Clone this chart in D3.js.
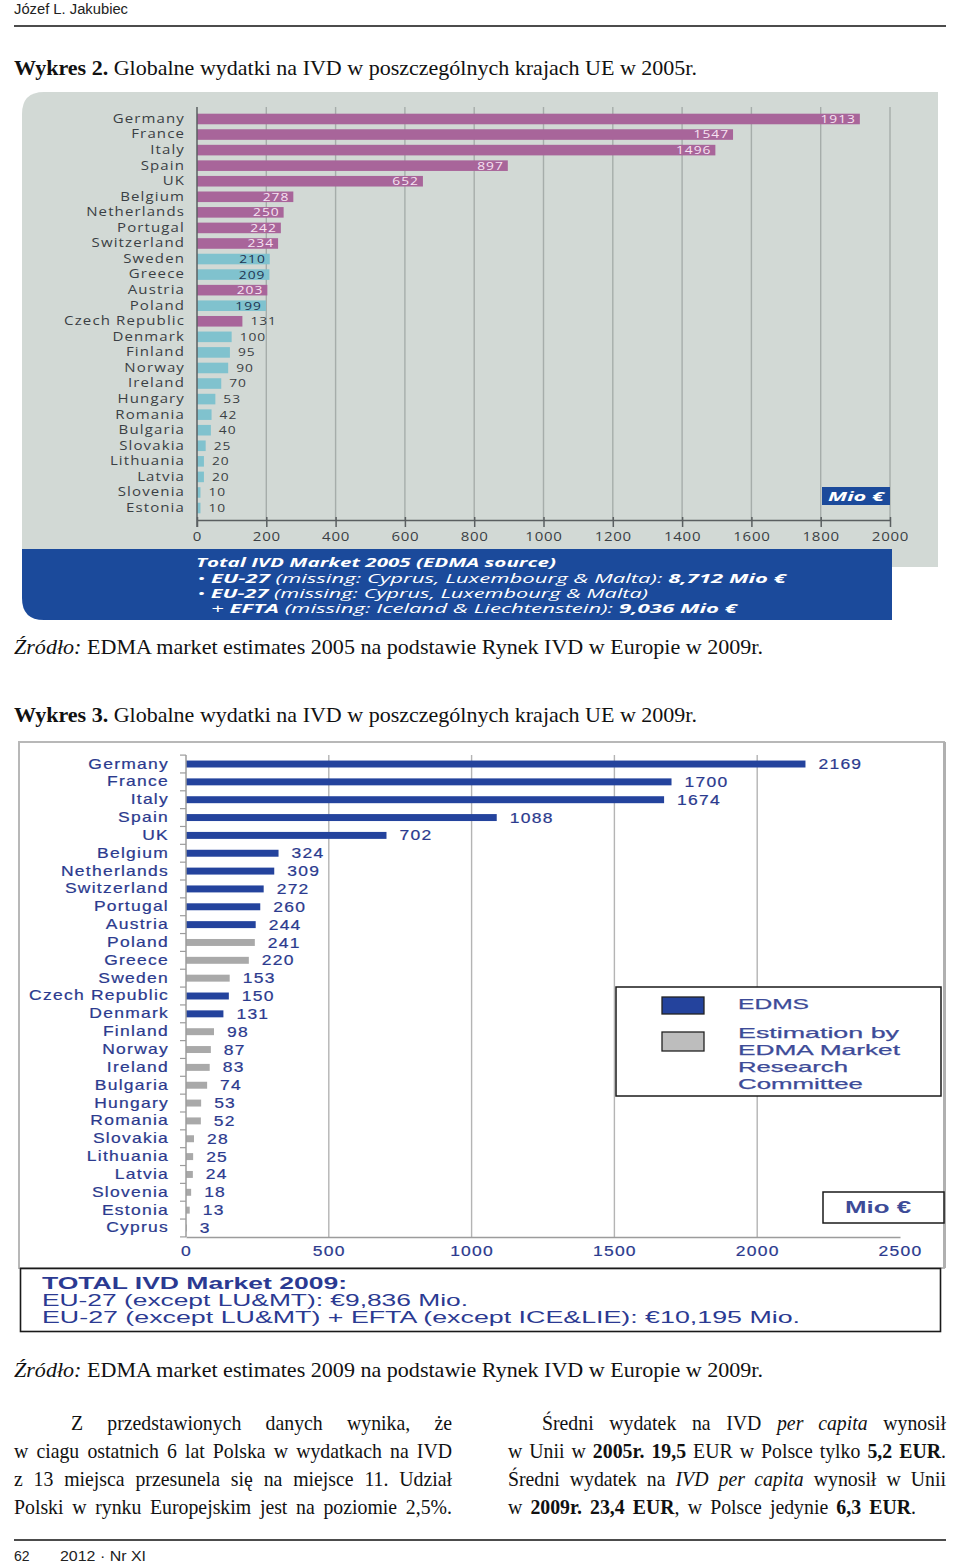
<!DOCTYPE html>
<html><head><meta charset="utf-8">
<script src="https://cdn.jsdelivr.net/npm/d3@7"></script>
<style>body{margin:0;background:#fff} svg{display:block}</style>
</head><body>
<svg id="page" width="960" height="1564"></svg>
<script>
// ---------------- DATA ----------------
const categories2005 = ["Germany","France","Italy","Spain","UK","Belgium","Netherlands","Portugal","Switzerland","Sweden","Greece","Austria","Poland","Czech Republic","Denmark","Finland","Norway","Ireland","Hungary","Romania","Bulgaria","Slovakia","Lithuania","Latvia","Slovenia","Estonia"];
const values2005 = [1913,1547,1496,897,652,278,250,242,234,210,209,203,199,131,100,95,90,70,53,42,40,25,20,20,10,10];
const groups2005 = ["A","A","A","A","A","A","A","A","A","B","B","A","B","A","B","B","B","B","B","B","B","B","B","B","B","B"];
const ticks2005 = [0,200,400,600,800,1000,1200,1400,1600,1800,2000];

const categories2009 = ["Germany","France","Italy","Spain","UK","Belgium","Netherlands","Switzerland","Portugal","Austria","Poland","Greece","Sweden","Czech Republic","Denmark","Finland","Norway","Ireland","Bulgaria","Hungary","Romania","Slovakia","Lithuania","Latvia","Slovenia","Estonia","Cyprus"];
const values2009 = [2169,1700,1674,1088,702,324,309,272,260,244,241,220,153,150,131,98,87,83,74,53,52,28,25,24,18,13,3];
const sources2009 = ["EDMS","EDMS","EDMS","EDMS","EDMS","EDMS","EDMS","EDMS","EDMS","EDMS","EST","EST","EST","EDMS","EDMS","EST","EST","EST","EST","EST","EST","EST","EST","EST","EST","EST","EST"];
const ticks2009 = [0,500,1000,1500,2000,2500];
const legendKeys2009 = ["EDMS","EST"];
const legendLabels2009 = [["EDMS"],["Estimation by","EDMA Market","Research","Committee"]];

// ---------------- SETUP ----------------
const page = d3.select("#page");
const SERIF = "'Liberation Serif','Times New Roman',serif";
const SANS = "'Liberation Sans',Arial,sans-serif";
const OPEN = "'Open Sans','DejaVu Sans',sans-serif";
const SX = 1.25;
const fmt = d3.format("d");

function parseLine(str){
  const words=[]; let b=false,i=false; let cur=[]; let seg="";
  const flush=()=>{ if(seg){cur.push({t:seg,b,i}); seg="";} };
  for(let k=0;k<str.length;k++){
    if(str.startsWith("**",k)){ flush(); b=!b; k++; continue; }
    if(str[k]==="_"){ flush(); i=!i; continue; }
    if(str[k]===" "){ flush(); if(cur.length) words.push(cur); cur=[]; continue; }
    seg+=str[k];
  }
  flush(); if(cur.length) words.push(cur);
  return words;
}
function styledText(x,y,str,size,len,family){
  const t=page.append("text").attr("x",x).attr("y",y).attr("font-family",family||SERIF).attr("font-size",size).attr("fill","#111");
  if(len) t.attr("textLength",len).attr("lengthAdjust","spacingAndGlyphs");
  const words=parseLine(str);
  words.forEach((w,wi)=>{
    w.forEach((s,si)=>{
      const txt=(wi>0&&si===0?" ":"")+s.t;
      const ts=t.append("tspan").text(txt);
      if(s.b) ts.attr("font-weight","bold");
      if(s.i) ts.attr("font-style","italic");
    });
  });
  return t;
}
function justified(x0,x1,y,str,size,justify){
  const t=page.append("text").attr("y",y).attr("font-family",SERIF).attr("font-size",size).attr("fill","#111");
  const words=parseLine(str);
  const wspans=words.map(w=>w.map(s=>{
    const ts=t.append("tspan").text(s.t);
    if(s.b) ts.attr("font-weight","bold");
    if(s.i) ts.attr("font-style","italic");
    return ts;
  }));
  const widths=wspans.map(arr=>d3.sum(arr,s=>s.node().getComputedTextLength()));
  const sum=d3.sum(widths); const n=words.length; const avail=x1-x0;
  const space=size*0.25;
  let k=Math.max(0.72,Math.min(0.9, avail/(sum+(n-1)*space)));
  let gap = justify ? (avail/k-sum)/(n-1) : space;
  t.attr("transform",`scale(${k},1)`);
  let pos=x0/k;
  wspans.forEach((arr,wi)=>{ arr[0].attr("x",pos); pos+=widths[wi]+gap; });
}

// ---------------- PAGE TEXT ----------------
page.append("text").attr("x",14).attr("y",14).attr("font-family",SANS).attr("font-size",14).attr("fill","#222")
  .attr("textLength",114).attr("lengthAdjust","spacingAndGlyphs").text("Józef L. Jakubiec");
page.append("line").attr("x1",14).attr("x2",946).attr("y1",26).attr("y2",26).attr("stroke","#111").attr("stroke-width",1.6);

styledText(14,75,"**Wykres 2.** Globalne wydatki na IVD w poszczególnych krajach UE w 2005r.",22,683);
styledText(14,654,"_Źródło:_ EDMA market estimates 2005 na podstawie Rynek IVD w Europie w 2009r.",22,749);
styledText(14,722,"**Wykres 3.** Globalne wydatki na IVD w poszczególnych krajach UE w 2009r.",22,683);
styledText(14,1377,"_Źródło:_ EDMA market estimates 2009 na podstawie Rynek IVD w Europie w 2009r.",22,749);

// ---------------- CHART 1 (2005) ----------------
const x1 = d3.scaleLinear().domain([0,2000]).range([197,890]);
const y1 = d3.scaleBand().domain(categories2005).range([111.2,515.8]).paddingInner(0.32).paddingOuter(0.16);
const color1 = d3.scaleOrdinal().domain(["A","B"]).range(["#a8659a","#80c2ce"]);
const c1 = page.append("g");
c1.append("path").attr("d","M22,567 V114 Q22,92 44,92 H938 V567 Z").attr("fill","#d2d9d5");
c1.selectAll("line.grid").data(ticks2005.slice(1)).join("line").attr("class","grid")
  .attr("x1",d=>x1(d)).attr("x2",d=>x1(d)).attr("y1",107).attr("y2",520)
  .attr("stroke","#a6adaa").attr("stroke-width",1.4);
c1.selectAll("rect.bar").data(categories2005).join("rect").attr("class","bar")
  .attr("x",x1(0)).attr("y",d=>y1(d)).attr("height",y1.bandwidth())
  .attr("width",(d,i)=>x1(values2005[i])-x1(0)).attr("fill",(d,i)=>color1(groups2005[i]));
c1.selectAll("text.val").data(categories2005).join("text").attr("class","val")
  .each(function(d,i){
    const v=values2005[i], inside=v>=199;
    const xx=inside? x1(v)-4 : x1(v)+8;
    d3.select(this).attr("x",xx/SX).attr("y",y1(d)+y1.bandwidth()/2).attr("dy","0.36em")
      .attr("text-anchor",inside?"end":"start")
      .attr("fill",inside?(groups2005[i]==="A"?"#f7e3f2":"#1e3552"):"#3a3f44").text(v);
  })
  .attr("transform",`scale(${SX},1)`).attr("font-family",OPEN).attr("font-size",11).attr("letter-spacing",0.8);
c1.append("line").attr("x1",197).attr("x2",197).attr("y1",107).attr("y2",527).attr("stroke","#5a5f60").attr("stroke-width",1.5);
const ax1=c1.append("g").attr("transform","translate(0,520)")
  .call(d3.axisBottom(x1).tickValues(ticks2005).tickFormat(fmt).tickSize(7).tickSizeOuter(0).tickPadding(5));
ax1.select(".domain").attr("stroke","#5a5f60").attr("stroke-width",1.5);
ax1.selectAll(".tick line").attr("stroke","#5a5f60").attr("stroke-width",1.5).attr("y1",-3);
ax1.selectAll(".tick text").attr("font-family",OPEN).attr("font-size",12).attr("fill","#3a3f44")
  .attr("letter-spacing",0.6).attr("transform",`scale(${SX},1)`);
const ay1=c1.append("g").attr("transform","translate(197,0)").call(d3.axisLeft(y1).tickSize(0).tickPadding(13));
ay1.select(".domain").remove();
ay1.selectAll(".tick text").attr("x",-12/SX).attr("font-family",OPEN).attr("font-size",12).attr("fill","#3a3f44")
  .attr("letter-spacing",0.9).attr("transform",`scale(${SX},1)`);
// Mio box
c1.append("rect").attr("x",822).attr("y",487).attr("width",68).attr("height",18).attr("fill","#1b4a9b");
c1.append("text").attr("x",828).attr("y",501).attr("font-family",OPEN).attr("font-size",13).attr("font-weight","bold")
  .attr("font-style","italic").attr("fill","#fff").attr("textLength",56).attr("lengthAdjust","spacingAndGlyphs").text("Mio €");
// blue footer
c1.append("path").attr("d","M22,549 H892 V620 H44 Q22,620 22,598 Z").attr("fill","#1b4a9b");
function blueLine(x,y,str,len){
  const t=styledText(x,y,str,12,len,OPEN); t.attr("fill","#fff").attr("font-style","italic");
  return t;
}
blueLine(196,567,"**Total IVD Market 2005 (EDMA source)**",360);
blueLine(197,583,"• **EU-27** (missing: Cyprus, Luxembourg & Malta): **8,712 Mio €**",589);
blueLine(197,598,"• **EU-27** (missing: Cyprus, Luxembourg & Malta)",451);
blueLine(211,613,"+ **EFTA** (missing: Iceland & Liechtenstein): **9,036 Mio €**",526);

// ---------------- CHART 2 (2009) ----------------
const x2 = d3.scaleLinear().domain([0,2500]).range([186,900]);
const y2 = d3.scaleBand().domain(categories2009).range([755.1,1236.9]).paddingInner(0.61).paddingOuter(0.305);
const color2 = d3.scaleOrdinal().domain(legendKeys2009).range(["#24439d","#a9a9a9"]);
const NAVY="#2b3a8e";
const c2 = page.append("g");
c2.append("rect").attr("x",19).attr("y",742).attr("width",925).attr("height",526).attr("fill","#fff").attr("stroke","#b8b8b8").attr("stroke-width",2);
c2.append("line").attr("x1",944.5).attr("x2",944.5).attr("y1",742).attr("y2",1268).attr("stroke","#b0b0b0").attr("stroke-width",3);
c2.selectAll("line.grid").data(ticks2009.slice(1,-1)).join("line").attr("class","grid")
  .attr("x1",d=>x2(d)).attr("x2",d=>x2(d)).attr("y1",755).attr("y2",1237)
  .attr("stroke","#b4b4b4").attr("stroke-width",1.4);
c2.selectAll("rect.bar").data(categories2009).join("rect").attr("class","bar")
  .attr("x",x2(0)).attr("y",d=>y2(d)).attr("height",y2.bandwidth())
  .attr("width",(d,i)=>x2(values2009[i])-x2(0)).attr("fill",(d,i)=>color2(sources2009[i]));
c2.selectAll("text.val").data(categories2009).join("text").attr("class","val")
  .attr("x",(d,i)=>(x2(values2009[i])+13)/SX).attr("y",d=>y2(d)+y2.bandwidth()/2).attr("dy","0.36em")
  .attr("transform",`scale(${SX},1)`).attr("font-family",SANS).attr("font-size",14).attr("letter-spacing",1)
  .attr("fill",NAVY).attr("stroke",NAVY).attr("stroke-width",0.2).text((d,i)=>values2009[i]);
// y axis with boundary ticks
c2.append("line").attr("x1",186).attr("x2",186).attr("y1",y2.range()[0]).attr("y2",1237).attr("stroke","#9c9c9c").attr("stroke-width",1.5);
c2.selectAll("line.ytick").data(d3.range(categories2009.length+1)).join("line").attr("class","ytick")
  .attr("x1",180).attr("x2",186).attr("y1",k=>y2.range()[0]+k*y2.step()).attr("y2",k=>y2.range()[0]+k*y2.step())
  .attr("stroke","#9c9c9c").attr("stroke-width",1.2);
const ax2=c2.append("g").attr("transform","translate(0,1237)")
  .call(d3.axisBottom(x2).tickValues(ticks2009).tickFormat(fmt).tickSize(0).tickPadding(9));
ax2.select(".domain").attr("stroke","#9c9c9c").attr("stroke-width",1.5);
ax2.selectAll(".tick text").attr("font-family",SANS).attr("font-size",14).attr("fill",NAVY).attr("stroke",NAVY).attr("stroke-width",0.2)
  .attr("letter-spacing",1).attr("transform",`scale(${SX},1)`);
const ay2=c2.append("g").attr("transform","translate(186,0)").call(d3.axisLeft(y2).tickSize(0));
ay2.select(".domain").remove();
ay2.selectAll(".tick text").attr("x",-17/SX).attr("font-family",SANS).attr("font-size",14).attr("fill",NAVY)
  .attr("stroke",NAVY).attr("stroke-width",0.2).attr("letter-spacing",1).attr("transform",`scale(${SX},1)`);
// legend
c2.append("rect").attr("x",616).attr("y",987).attr("width",325).attr("height",109).attr("fill","#fff").attr("stroke","#1a1a1a").attr("stroke-width",1.5);
const legY=[997,1032];
const legLens=[[71],[161,162,110,125]];
legendKeys2009.forEach((k,i)=>{
  c2.append("rect").attr("x",662).attr("y",legY[i]).attr("width",42).attr("height",i===0?17:19)
    .attr("fill",i===0?color2(k):"#bdbdbd").attr("stroke","#222").attr("stroke-width",1.3);
  legendLabels2009[i].forEach((s,j)=>{
    c2.append("text").attr("x",738).attr("y",(i===0?1009:1038)+j*17).attr("font-family",SANS).attr("font-size",15)
      .attr("fill","#3d4b98").attr("stroke","#3d4b98").attr("stroke-width",0.25)
      .attr("textLength",legLens[i][j]).attr("lengthAdjust","spacingAndGlyphs").text(s);
  });
});
// Mio box
c2.append("rect").attr("x",823).attr("y",1192).attr("width",121).attr("height",31).attr("fill","#fff").attr("stroke","#1a1a1a").attr("stroke-width",1.5);
c2.append("text").attr("x",845).attr("y",1213).attr("font-family",SANS).attr("font-size",16).attr("font-weight","bold")
  .attr("fill","#3d4b98").attr("textLength",66).attr("lengthAdjust","spacingAndGlyphs").text("Mio €");
// total box
c2.append("rect").attr("x",20.5).attr("y",1268.5).attr("width",920).attr("height",63).attr("fill","#fff").attr("stroke","#1a1a1a").attr("stroke-width",1.6);
[["**TOTAL IVD Market 2009:**",305],["EU-27 (except LU&MT): €9,836 Mio.",426],["EU-27 (except LU&MT) + EFTA (except ICE&LIE): €10,195 Mio.",758]]
  .forEach((l,i)=>{
    const t=styledText(42,1289+i*17,l[0],16,l[1],SANS);
    t.attr("fill","#2b3a92");
  });

// ---------------- PARAGRAPHS ----------------
const leftLines=["Z przedstawionych danych wynika, że","w ciagu ostatnich 6 lat Polska w wydatkach na IVD","z 13 miejsca przesunela się na miejsce 11. Udział","Polski w rynku Europejskim jest na poziomie 2,5%."];
const rightLines=["Średni wydatek na IVD _per capita_ wynosił","w Unii w **2005r. 19,5** EUR w Polsce tylko **5,2 EUR**.","Średni wydatek na _IVD per capita_ wynosił w Unii","w **2009r. 23,4 EUR**, w Polsce jedynie **6,3 EUR**."];
leftLines.forEach((l,i)=>justified(i===0?71:14,452,1430+i*28,l,22,true));
rightLines.forEach((l,i)=>justified(i===0?542:508,i===3?916:946,1430+i*28,l,22,true));

page.append("line").attr("x1",14).attr("x2",946).attr("y1",1540).attr("y2",1540).attr("stroke","#111").attr("stroke-width",1.6);
page.append("text").attr("x",14).attr("y",1561).attr("font-family",SANS).attr("font-size",14).attr("fill","#222").text("62");
page.append("text").attr("x",60).attr("y",1561).attr("font-family",SANS).attr("font-size",14).attr("fill","#222")
  .attr("textLength",86).attr("lengthAdjust","spacingAndGlyphs").text("2012 · Nr XI");
</script>
</body></html>
